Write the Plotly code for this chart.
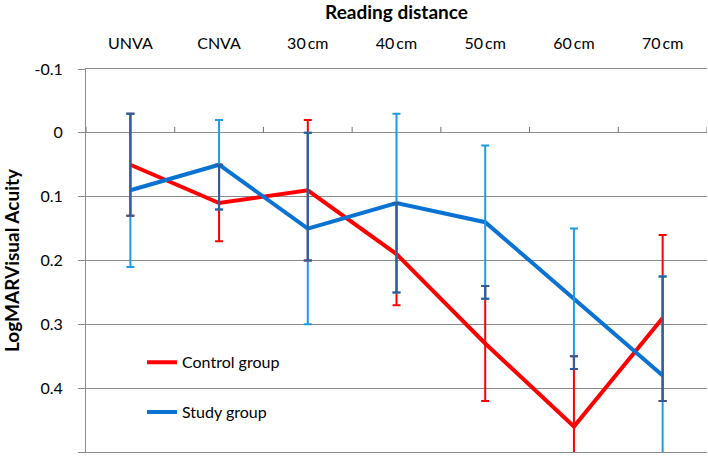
import plotly.graph_objects as go

categories = ["UNVA", "CNVA", "30\u2009cm", "40\u2009cm", "50\u2009cm", "60\u2009cm", "70\u2009cm"]
control_mean = [0.05, 0.11, 0.09, 0.19, 0.33, 0.46, 0.29]
control_err = [0.08, 0.06, 0.11, 0.08, 0.09, 0.11, 0.13]
study_mean = [0.09, 0.05, 0.15, 0.11, 0.14, 0.26, 0.38]
study_err = [0.12, 0.07, 0.15, 0.14, 0.12, 0.11, 0.155]
ytick_vals = [-0.1, 0.0, 0.1, 0.2, 0.3, 0.4, 0.5]
ytick_labels = ["-0.1", "0", "0.1", "0.2", "0.3", "0.4", "0.5"]

RED = "#FF0000"
BLUE = "#0A72D2"
LIGHT = "#1E9BE6"
DARK = "#2D5C98"
GRID = "#8A8A8A"
FONT = "Lato"

# overlapping part of the two error bars (drawn dark)
ov_x, ov_c, ov_e = [], [], []
for c, rm, re, sm, se in zip(categories, control_mean, control_err, study_mean, study_err):
    lo = max(rm - re, sm - se)
    hi = min(rm + re, sm + se)
    if hi > lo:
        ov_x.append(c)
        ov_c.append((lo + hi) / 2)
        ov_e.append((hi - lo) / 2)

fig = go.Figure()

def err_trace(x, y, e, color):
    return go.Scatter(
        x=x, y=y, mode="markers", marker=dict(size=1, opacity=0),
        error_y=dict(type="data", array=e, visible=True, color=color,
                     thickness=2, width=4),
        showlegend=False, hoverinfo="skip")

ymin, ymax = ytick_vals[0], ytick_vals[-1]
boundaries = [i - 0.5 for i in range(len(categories) + 1)]
tick_len = 6 / 384 * (ymax - ymin)  # 6 px tick marks on the 0 axis line

# category-boundary tick marks sitting on the 0 line (pointing up)
fig.add_trace(go.Scatter(x=boundaries, y=[0] * len(boundaries), xaxis="x2", mode="markers",
                         marker=dict(opacity=0, size=1), showlegend=False, hoverinfo="skip",
                         error_y=dict(type="data", symmetric=False, array=[0] * len(boundaries),
                                      arrayminus=[tick_len] * len(boundaries),
                                      color="#707070", thickness=1, width=0)))

fig.add_trace(go.Scatter(x=categories, y=control_mean, mode="lines", name="Control group",
                         line=dict(color=RED, width=4), legend="legend"))
fig.add_trace(err_trace(categories, control_mean, control_err, RED))
fig.add_trace(go.Scatter(x=categories, y=study_mean, mode="lines", name="Study group",
                         line=dict(color=BLUE, width=4), legend="legend2"))
fig.add_trace(err_trace(categories, study_mean, study_err, LIGHT))
fig.add_trace(err_trace(ov_x, ov_c, ov_e, DARK))

fig.update_layout(
    width=708, height=460,
    margin=dict(l=86, r=1, t=69, b=8, autoexpand=False),
    paper_bgcolor="white", plot_bgcolor="white",
    font=dict(family=FONT, color="black", size=16),
    title=dict(text="<b>Reading distance</b>", x=(86 + 707) / 2 / 708, xanchor="center",
               xref="container", yref="container", y=1 - 12 / 460, yanchor="middle",
               automargin=False, font=dict(size=19, family=FONT)),
    xaxis=dict(type="category", side="top", showgrid=False, showline=True, mirror=True,
               linecolor=GRID, linewidth=1, automargin=False,
               ticks="outside", ticklen=0, ticklabelstandoff=13, zeroline=False,
               tickfont=dict(size=16), range=[-0.5, len(categories) - 0.5]),
    xaxis2=dict(overlaying="x", anchor="y", side="top", type="linear",
                range=[-0.5, len(categories) - 0.5], showgrid=False, showline=False,
                zeroline=False, showticklabels=False, ticks="", automargin=False),
    yaxis=dict(range=[ymax, ymin], tickvals=ytick_vals, ticktext=ytick_labels,
               showgrid=True, gridcolor=GRID, gridwidth=1, zeroline=False, automargin=False,
               showline=True, linecolor=GRID, linewidth=1, ticks="outside", ticklen=7,
               tickcolor=GRID, ticklabelstandoff=12, tickfont=dict(size=16),
               title=dict(text="<b>LogMARVisual Acuity</b>", font=dict(size=19), standoff=10)),
    legend=dict(x=(142 - 86) / 621, y=1 - (363 - 69) / 384, xanchor="left", yanchor="middle",
                bgcolor="rgba(0,0,0,0)", font=dict(size=16), itemwidth=30),
    legend2=dict(x=(142 - 86) / 621, y=1 - (413 - 69) / 384, xanchor="left", yanchor="middle",
                 bgcolor="rgba(0,0,0,0)", font=dict(size=16), itemwidth=30),
)

fig.write_html("out.html", config={"displayModeBar": False},
               post_script="document.body.style.margin='0';")
